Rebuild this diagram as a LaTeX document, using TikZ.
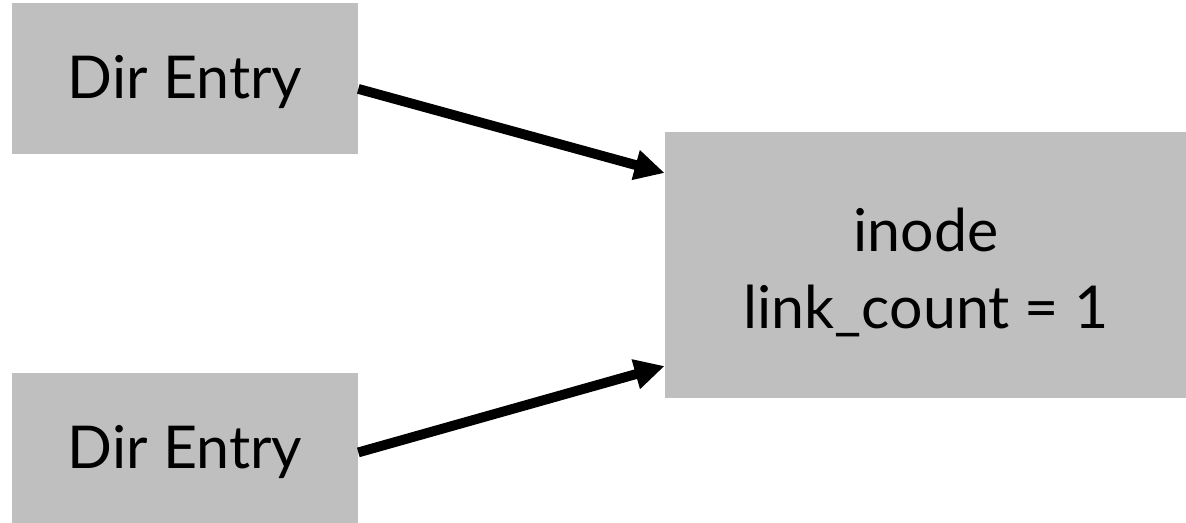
\documentclass[tikz,border=0pt]{standalone}
\usepackage{fontspec}
\setmainfont{Lato}
\usetikzlibrary{arrows.meta}
\definecolor{boxgray}{RGB}{191,191,191}

\begin{document}
\begin{tikzpicture}[x=0.025cm,y=-0.025cm,
  entry/.style={fill=boxgray,inner sep=0pt,align=center,font=\fontsize{42}{55}\selectfont},
  link/.style={line width=7pt,-{Triangle[length=0.75cm,width=0.72cm]}}]
 \useasboundingbox (0,0) rectangle (1186,522); %画像の範囲
 \node[entry,text height=36pt,minimum width=8.65cm,minimum height=3.775cm] (dir1) at (185,78.5) {Dir Entry}; %上のエントリ
 \node[entry,text height=36pt,minimum width=8.65cm,minimum height=3.75cm] (dir2) at (185,448) {Dir Entry}; %下のエントリ
 \node[entry,text height=101pt,text depth=10pt,minimum width=13.05cm,minimum height=6.65cm] (ino) at (926,265) {inode\\link\_count = 1}; %inode
 \draw[link] ([yshift=-0.26cm]dir1.east)--([yshift=2.3cm]ino.west); %上の矢印
 \draw[link] ([yshift=-0.11cm]dir2.east)--([yshift=-2.525cm]ino.west); %下の矢印
\end{tikzpicture}
\end{document}
